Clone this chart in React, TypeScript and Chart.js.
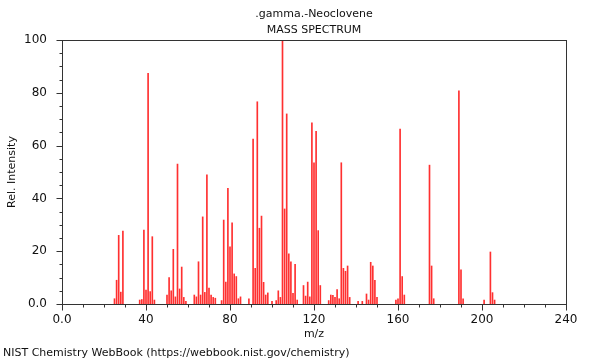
import React, { useEffect, useRef } from "react";
import { Chart, registerables } from "chart.js";

Chart.register(...registerables);

const titleLines = [".gamma.-Neoclovene", "MASS SPECTRUM"];
const xTitle = "m/z";
const yTitle = "Rel. Intensity";
const footer = "NIST Chemistry WebBook (https://webbook.nist.gov/chemistry)";

const mz = [
  25, 26, 27, 28, 29,
  37, 38, 39, 40, 41, 42, 43, 44,
  50, 51, 52, 53, 54, 55, 56, 57, 58, 59,
  63, 64, 65, 66, 67, 68, 69, 70, 71, 72, 73,
  76, 77, 78, 79, 80, 81, 82, 83, 84, 85,
  89, 91, 92, 93, 94, 95, 96, 97, 98,
  100, 102, 103, 104, 105, 106, 107, 108, 109, 110, 111, 112,
  115, 116, 117, 118, 119, 120, 121, 122, 123,
  127, 128, 129, 130, 131, 132, 133, 134, 135, 136, 137,
  141, 143, 145, 146, 147, 148, 149, 150,
  159, 160, 161, 162, 163,
  175, 176, 177,
  189, 190, 191,
  201, 204, 205, 206,
];

const intensity = [
  2, 9, 26, 4.5, 27.6,
  1.5, 1.7, 28, 5.3, 87.4, 4.7, 25.5, 1.5,
  3.4, 10, 5, 20.7, 2.7, 53, 5.7, 14, 2.5, 1,
  3.4, 2.7, 16, 3.4, 33, 4.4, 48.9, 6, 3.4, 2.5, 2.2,
  1.3, 31.8, 8.3, 43.8, 21.7, 30.7, 11.4, 10.4, 2, 2.7,
  2, 62.5, 13.5, 76.6, 28.7, 33.3, 8.2, 3.4, 4.2,
  1, 1.3, 5, 2.5, 100, 36, 72, 19, 16, 4, 15, 1.5,
  7, 3, 8.3, 2.7, 68.6, 53.5, 65.4, 27.8, 7,
  1.3, 3.4, 3.3, 2.5, 5.5, 2, 53.5, 13.5, 12.4, 14.4, 2.5,
  1, 1, 3.8, 1.5, 15.8, 14.4, 9, 2.5,
  1.5, 2, 66.3, 10.4, 3.4,
  52.6, 14.4, 2,
  80.7, 12.9, 2,
  1.5, 19.7, 4.3, 1.5,
];

const xMin = 0;
const xMax = 240;
const xMajorStep = 40;
const xMinorStep = 10;
const yMin = 0;
const yMax = 100;
const yMajorStep = 20;
const yMinorStep = 5;

const FONT = "'DejaVu Sans', sans-serif";
const AXIS_COLOR = "#333333";
const TEXT_COLOR = "#111111";

const decorPlugin = {
  id: "decor",
  afterDraw(chart: any) {
    const ctx = chart.ctx as CanvasRenderingContext2D;
    const { left, right, top, bottom } = chart.chartArea;
    const xs = chart.scales.x;
    const ys = chart.scales.y;
    ctx.save();
    ctx.strokeStyle = AXIS_COLOR;
    ctx.lineWidth = 1;
    ctx.strokeRect(Math.round(left) + 0.5, Math.round(top) + 0.5, Math.round(right - left), Math.round(bottom - top));
    ctx.beginPath();
    for (let v = xMin; v <= xMax; v += xMinorStep) {
      const px = Math.round(xs.getPixelForValue(v)) + 0.5;
      const len = v % xMajorStep === 0 ? 6 : 3;
      ctx.moveTo(px, Math.round(bottom) + 0.5);
      ctx.lineTo(px, Math.round(bottom) + 0.5 + len);
    }
    for (let v = yMin; v <= yMax; v += yMinorStep) {
      const py = Math.round(ys.getPixelForValue(v)) + 0.5;
      const len = v % yMajorStep === 0 ? 6 : 3;
      ctx.moveTo(Math.round(left) + 0.5, py);
      ctx.lineTo(Math.round(left) + 0.5 - len, py);
    }
    ctx.stroke();

    ctx.fillStyle = TEXT_COLOR;
    ctx.textAlign = "center";
    ctx.textBaseline = "middle";
    ctx.font = `11px ${FONT}`;
    const cx = (left + right) / 2;
    ctx.fillText(titleLines[0], cx, 14);
    ctx.fillText(titleLines[1], cx, 30);
    ctx.fillText(xTitle, cx, 334);
    ctx.save();
    ctx.translate(12, (top + bottom) / 2);
    ctx.rotate(-Math.PI / 2);
    ctx.fillText(yTitle, 0, 0);
    ctx.restore();
    ctx.textAlign = "left";
    ctx.fillText(footer, 3, 353);
    ctx.restore();
  },
};

export default function App() {
  const canvasRef = useRef<HTMLCanvasElement | null>(null);

  useEffect(() => {
    document.body.style.margin = "0";
    const canvas = canvasRef.current;
    if (!canvas) return;
    const points = mz.map((m, i) => ({ x: m, y: intensity[i] }));
    const chart = new Chart(canvas, {
      type: "bar",
      data: {
        datasets: [
          {
            data: points as any,
            backgroundColor: "#ff3030",
            borderWidth: 0,
            barThickness: 1,
            grouped: false,
          } as any,
        ],
      },
      options: {
        animation: false,
        responsive: false,
        devicePixelRatio: 1,
        layout: { padding: { top: 40, right: 34, left: 0, bottom: 0 } },
        plugins: {
          legend: { display: false },
          tooltip: { enabled: false },
          title: { display: false },
        },
        scales: {
          x: {
            type: "linear",
            min: xMin,
            max: xMax,
            offset: false,
            grid: { display: false, offset: false },
            border: { display: false },
            ticks: {
              stepSize: xMajorStep,
              autoSkip: false,
              maxRotation: 0,
              padding: 1,
              color: TEXT_COLOR,
              font: { family: FONT, size: 12 },
              callback: (v: any) => (v === 0 ? "0.0" : String(v)),
            },
            afterFit: (s: any) => {
              s.height = 56;
            },
          },
          y: {
            min: yMin,
            max: yMax,
            grid: { display: false },
            border: { display: false },
            ticks: {
              stepSize: yMajorStep,
              padding: 7,
              color: TEXT_COLOR,
              font: { family: FONT, size: 12 },
              callback: (v: any) => (v === 0 ? "0.0" : String(v)),
            },
            afterFit: (s: any) => {
              s.width = 62;
            },
          },
        },
      },
      plugins: [decorPlugin],
    });
    return () => chart.destroy();
  }, []);

  return (
    <div style={{ position: "absolute", left: 0, top: 0, width: 600, height: 360, background: "#fff" }}>
      <canvas ref={canvasRef} width={600} height={360} />
    </div>
  );
}
